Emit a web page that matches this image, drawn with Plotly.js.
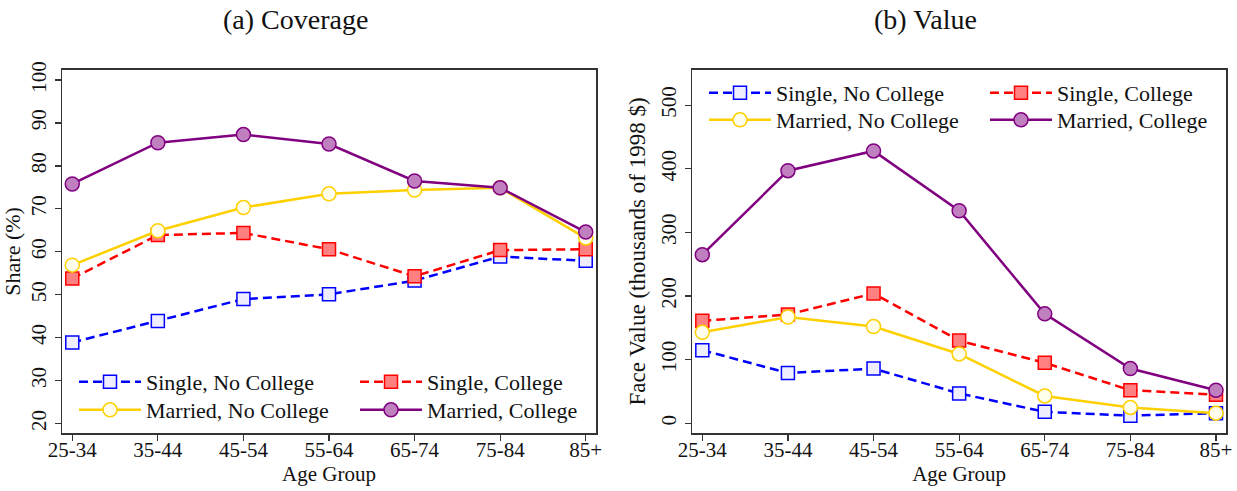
<!DOCTYPE html>
<html>
<head>
<meta charset="utf-8">
<script src="https://cdn.plot.ly/plotly-3.0.1.min.js"></script>
<style>html,body{margin:0;padding:0;background:#fff;}#chart{width:1237px;height:491px;}</style>
</head>
<body>
<div id="chart"></div>
<script>
// ---- data ----
const ageGroups = ["25-34","35-44","45-54","55-64","65-74","75-84","85+"];
const seriesNames = ["Single, No College","Single, College","Married, No College","Married, College"];

// (a) Coverage: share (%)
const coverSingleNoCol  = [38.9, 43.9, 49.0, 50.1, 53.3, 58.9, 57.9];
const coverSingleCol    = [53.8, 63.9, 64.4, 60.6, 54.3, 60.4, 60.6];
const coverMarriedNoCol = [56.9, 64.9, 70.3, 73.5, 74.4, 74.9, 63.2];
const coverMarriedCol   = [75.8, 85.4, 87.3, 85.1, 76.5, 74.9, 64.6];

// (b) Value: face value (thousands of 1998 $)
const valueSingleNoCol  = [115, 79, 86, 47, 18, 12, 16];
const valueSingleCol    = [161, 171, 204, 130, 95, 52, 45];
const valueMarriedNoCol = [143, 167, 152, 109, 43, 25, 16];
const valueMarriedCol   = [265, 397, 428, 334, 172, 86, 52];

const W = 1237, H = 491;
const FONT = "Liberation Serif, Times New Roman, serif";
const px = x => x / W;
const py = y => 1 - y / H;

const styles = [
  {line:{color:"#0000FF", width:2.5, dash:"9px,5px"}, marker:{symbol:"square", size:13, color:"#EEEEFF", line:{color:"#0000FF", width:1.5}}},
  {line:{color:"#FF0000", width:2.5, dash:"9px,5px"}, marker:{symbol:"square", size:13, color:"#FF8080", line:{color:"#FF0000", width:1.5}}},
  {line:{color:"#FFD000", width:2.5}, marker:{symbol:"circle", size:14, color:"#FFFDEB", line:{color:"#FFD000", width:1.5}}},
  {line:{color:"#800080", width:2.5}, marker:{symbol:"circle", size:14, color:"#C080C0", line:{color:"#800080", width:1.5}}}
];

const coverData = [coverSingleNoCol, coverSingleCol, coverMarriedNoCol, coverMarriedCol];
const valueData = [valueSingleNoCol, valueSingleCol, valueMarriedNoCol, valueMarriedCol];
const leftLegends = ["legend","legend2","legend3","legend4"];
const rightLegends = ["legend5","legend6","legend7","legend8"];

const traces = [];
coverData.forEach((ys,i)=>{
  traces.push({x:ageGroups, y:ys, name:seriesNames[i], type:"scatter", mode:"lines+markers", showlegend:true,
    xaxis:"x", yaxis:"y", legend:leftLegends[i], line:styles[i].line, marker:styles[i].marker, cliponaxis:false});
});
valueData.forEach((ys,i)=>{
  traces.push({x:ageGroups, y:ys, name:seriesNames[i], type:"scatter", mode:"lines+markers", showlegend:true,
    xaxis:"x2", yaxis:"y2", legend:rightLegends[i], line:styles[i].line, marker:styles[i].marker, cliponaxis:false});
});

const axisCommon = {
  showline:true, mirror:true, linecolor:"#333", linewidth:1.5,
  ticks:"outside", ticklen:6, tickwidth:1.2, tickcolor:"#333",
  showgrid:false, zeroline:false,
  tickfont:{family:FONT, size:21, color:"#111"}
};
const yDomain = [py(433.3), py(69.5)];

const legendCommon = {
  xanchor:"left", yanchor:"top", bgcolor:"rgba(0,0,0,0)", borderwidth:0,
  font:{family:FONT, size:22, color:"#111"}, itemwidth:62, tracegroupgap:0, orientation:"v"
};
// legend anchor points (top-left, pixels): [x, y]
const legendPos = {
  legend:[74, 361], legend2:[355, 361], legend3:[74, 389], legend4:[355, 389],
  legend5:[704, 72], legend6:[985, 72], legend7:[704, 99], legend8:[985, 99]
};

const layout = {
  width:W, height:H,
  showlegend:true,
  margin:{l:0, r:0, t:0, b:0},
  paper_bgcolor:"#fff", plot_bgcolor:"#fff",
  font:{family:FONT, color:"#111"},
  xaxis:Object.assign({}, axisCommon, {domain:[px(62), px(596)], range:[-0.12, 6.12], type:"category", ticklabelstandoff:-9,
    title:{text:"Age Group", font:{family:FONT, size:21, color:"#111"}, standoff:3}}),
  yaxis:Object.assign({}, axisCommon, {domain:yDomain, range:[17.75, 102.45], tickvals:[20,30,40,50,60,70,80,90,100], tickangle:-90,
    title:{text:"Share (%)", font:{family:FONT, size:22, color:"#111"}, standoff:4}}),
  xaxis2:Object.assign({}, axisCommon, {domain:[px(692.3), px(1226)], range:[-0.117, 6.117], type:"category", anchor:"y2", ticklabelstandoff:-9,
    title:{text:"Age Group", font:{family:FONT, size:21, color:"#111"}, standoff:3}}),
  yaxis2:Object.assign({}, axisCommon, {domain:yDomain, range:[-15.7, 556], tickvals:[0,100,200,300,400,500], tickangle:-90, anchor:"x2",
    title:{text:"Face Value (thousands of 1998 $)", font:{family:FONT, size:23, color:"#111"}, standoff:5}}),
  annotations:[
    {text:"(a) Coverage", x:px(295), y:py(20), xref:"paper", yref:"paper", xanchor:"center", yanchor:"middle", showarrow:false,
      font:{family:FONT, size:28, color:"#111"}},
    {text:"(b) Value", x:px(925), y:py(20), xref:"paper", yref:"paper", xanchor:"center", yanchor:"middle", showarrow:false,
      font:{family:FONT, size:28, color:"#111"}}
  ]
};
Object.keys(legendPos).forEach(k=>{
  layout[k] = Object.assign({}, legendCommon, {x:px(legendPos[k][0]), y:py(legendPos[k][1])});
});

Plotly.newPlot("chart", traces, layout, {displayModeBar:false, staticPlot:true});
</script>
</body>
</html>
